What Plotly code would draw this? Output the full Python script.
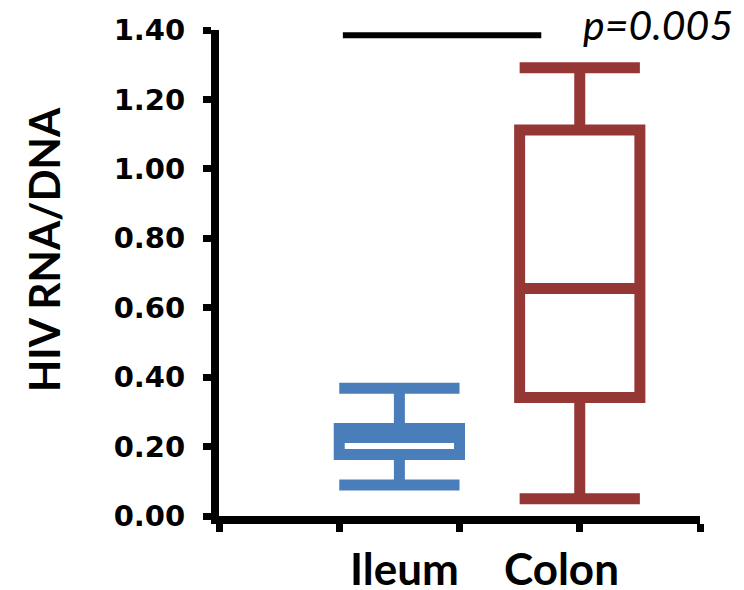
import plotly.graph_objects as go

# ---- data ----
groups = ["Ileum", "Colon"]
group_pos = [1.5, 3.0]            # box positions on the x scale (ticks at 0..4)
label_pos = [1.545, 2.85]         # category label centres
lower_fence = [0.089, 0.050]
q1 = [0.177, 0.341]
median = [0.226, 0.655]
q3 = [0.252, 1.112]
upper_fence = [0.368, 1.291]
colors = ["#4A7EBB", "#953735"]

y_ticks = [0.0, 0.2, 0.4, 0.6, 0.8, 1.0, 1.2, 1.4]
x_ticks = [0, 1, 2, 3, 4]

p_text = "p=0.005"
sig_x = [1.03, 2.68]
sig_y = 1.385

fig = go.Figure()
for i, g in enumerate(groups):
    fig.add_trace(go.Box(
        x=[group_pos[i]],
        q1=[q1[i]], median=[median[i]], q3=[q3[i]],
        lowerfence=[lower_fence[i]], upperfence=[upper_fence[i]],
        width=1.0, whiskerwidth=1.0,
        line=dict(color=colors[i], width=11),
        fillcolor="rgba(255,255,255,0)",
        name=g, showlegend=False, hoverinfo="skip",
    ))

fig.add_shape(type="line", xref="x", yref="y",
              x0=sig_x[0], x1=sig_x[1], y0=sig_y, y1=sig_y,
              line=dict(color="black", width=6))

fig.add_annotation(x=3.01, y=1.011, xref="x", yref="paper", text=p_text,
                   showarrow=False, xanchor="left", yanchor="middle",
                   font=dict(family="Lato", size=41, color="black", style="italic"))

for i, g in enumerate(groups):
    fig.add_annotation(x=label_pos[i], y=-0.107, xref="x", yref="paper",
                       text="<b>%s</b>" % g, showarrow=False,
                       xanchor="center", yanchor="middle",
                       font=dict(family="Lato", size=44, color="black"))

fig.add_annotation(x=-0.364, y=0.549, xref="paper", yref="paper",
                   text="<b>HIV RNA/DNA</b>", textangle=-90, showarrow=False,
                   xanchor="center", yanchor="middle",
                   font=dict(family="Lato", size=42, color="black"))

fig.update_layout(
    width=736, height=582,
    margin=dict(l=211, r=44, t=22, b=74, autoexpand=False),
    paper_bgcolor="white", plot_bgcolor="white",
    xaxis=dict(range=[0, 4], tickvals=x_ticks, ticktext=["" for _ in x_ticks],
               showgrid=False, zeroline=False, showline=True, linecolor="black",
               linewidth=8, ticks="outside", ticklen=8, tickwidth=7,
               tickcolor="black"),
    yaxis=dict(range=[0, 1.4], tickvals=y_ticks, tickformat=".2f",
               showgrid=False, zeroline=False, showline=True, linecolor="black",
               linewidth=8, ticks="outside", ticklen=8, tickwidth=7,
               tickcolor="black", ticklabelstandoff=12,
               tickfont=dict(family="DejaVu Sans", size=29, color="black", weight="bold")),
)

fig.write_html("out.html")
